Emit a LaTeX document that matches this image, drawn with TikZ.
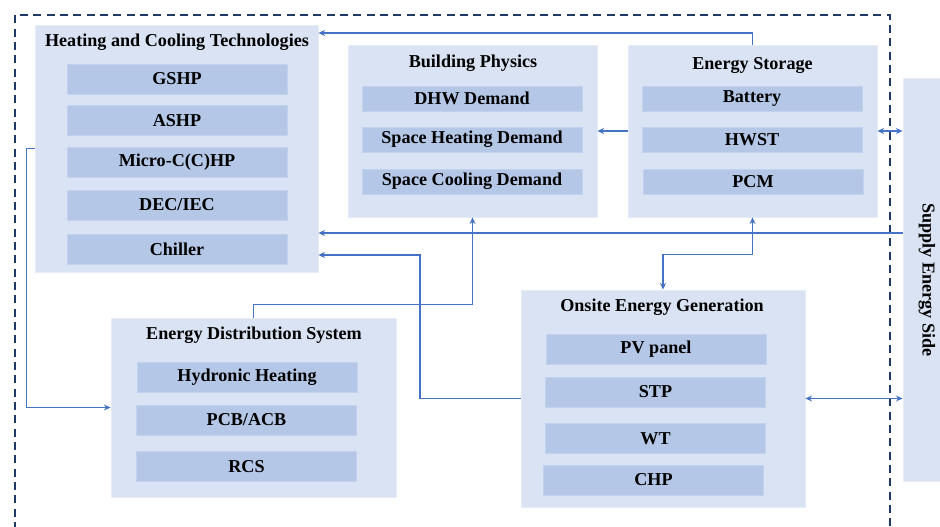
\documentclass[tikz,border=0pt]{standalone}
\usepackage{fontspec}
\setmainfont{Liberation Serif}
\usepackage{tikz}
\usetikzlibrary{calc,arrows.meta}

\definecolor{boxfill}{HTML}{DAE3F3}
\definecolor{itemfill}{HTML}{B4C7E7}
\definecolor{linkblue}{HTML}{4472C4}
\definecolor{frame}{HTML}{203864}

\begin{document}
\begin{tikzpicture}[x=0.75pt,y=0.75pt,yscale=-1,xscale=1,
  font=\fontsize{13.6}{16}\selectfont\bfseries,
  outer/.style={fill=boxfill,draw=boxfill!70!white,line width=0.6pt,inner sep=0pt},
  item/.style={fill=itemfill,draw=itemfill!80!white,line width=0.4pt,inner sep=0pt,minimum width=165pt},
  ttl/.style={inner sep=0pt,anchor=center},
  link/.style={draw=linkblue,line width=1.25pt,-{Stealth[length=5pt,width=4.5pt]}},
  dlink/.style={draw=linkblue,line width=1.25pt,{Stealth[length=5pt,width=4.5pt]}-{Stealth[length=5pt,width=4.5pt]}}]
\path[use as bounding box,clip] (0,0) rectangle (940,527);
%Shape: Dashed frame
\draw[frame,line width=1.6pt,dash pattern=on 6pt off 4pt] (15,530) -- (15,15) -- (890,15) -- (890,530);

%Shape: Heating and Cooling Technologies
\node[outer,minimum width=212.25pt,minimum height=185.25pt] (hct) at (176.5,148.5) {};
\node[ttl] (hcttitle) at (177,42) {Heating and Cooling Technologies};
\node[item,minimum height=22.5pt] (gshp) at (177,79) {GSHP};
\node[item,minimum height=22.5pt] (ashp) at (177,120.5) {ASHP};
\node[item,minimum height=22.5pt] (micro) at (177,162.5) {Micro-C(C)HP};
\node[item,minimum height=22.5pt] (dec) at (177,205) {DEC/IEC};
\node[item,minimum height=22.5pt] (chiller) at (177,249) {Chiller};

%Shape: Building Physics
\node[outer,minimum width=186.75pt,minimum height=129pt] (phys) at (472.5,131) {};
\node[ttl] (phystitle) at (473,63) {Building Physics};
\node[item,minimum height=18.75pt] (dhw) at (472,98.5) {DHW Demand};
\node[item,minimum height=18.75pt] (heatdem) at (472,139.5) {Space Heating Demand};
\node[item,minimum height=18.75pt] (cooldem) at (472,181.5) {Space Cooling Demand};

%Shape: Energy Storage
\node[outer,minimum width=186.75pt,minimum height=129pt] (store) at (752.5,131) {};
\node[ttl] (storetitle) at (752.5,66) {Energy Storage};
\node[item,minimum height=18.75pt] (battery) at (752,98.5) {Battery};
\node[item,minimum height=18.75pt] (hwst) at (752,139.5) {HWST};
\node[item,minimum height=18.75pt] (pcm) at (753,181.5) {PCM};

%Shape: Energy Distribution System
\node[outer,minimum width=213.75pt,minimum height=134.25pt] (dist) at (253.5,407.5) {};
\node[ttl] (disttitle) at (254,335) {Energy Distribution System};
\node[item,minimum height=22.5pt] (hydronic) at (247,377) {Hydronic Heating};
\node[item,minimum height=22.5pt] (pcb) at (246.5,420) {PCB/ACB};
\node[item,minimum height=22.5pt] (rcs) at (246.5,466.5) {RCS};

%Shape: Onsite Energy Generation
\node[outer,minimum width=213pt,minimum height=162.75pt] (onsite) at (663,398.5) {};
\node[ttl] (onsitetitle) at (662,307) {Onsite Energy Generation};
\node[item,minimum height=22.5pt] (pv) at (656,349) {PV panel};
\node[item,minimum height=22.5pt] (stp) at (655.5,392) {STP};
\node[item,minimum height=22.5pt] (wt) at (655.5,438.5) {WT};
\node[item,minimum height=22.5pt] (chp) at (653.5,480) {CHP};

%Shape: Supply Energy Side
\node[outer,minimum width=36.75pt,minimum height=302.25pt] (supply) at (927.5,280) {};
\node[ttl,rotate=-90] (supplytitle) at (927,280) {Supply Energy Side};

%Connectors
\coordinate (topbus) at (0,33);
\coordinate (bus) at (0,233);
\coordinate (bend) at (420,255);
\draw[link] (store.north) |- (hct.east |- topbus);
\draw[link] (store.west) -- (phys.east);
\draw[dlink] (store.east) -- (store.east -| supply.west);
\draw[link] (supply.west |- bus) -- (hct.east |- bus);
\draw[link] (onsite.west) -| (bend) -- (hct.east |- bend);
\draw[link] (dist.north) -- ++(0,-13) -| (phys.south);
\draw[dlink] (store.south) -- ++(0,37) -| (onsite.north);
\draw[link] (hct.west) -- ++(-8,0) |- (dist.west);
\draw[dlink] (onsite.east) -- (onsite.east -| supply.west);
\end{tikzpicture}
\end{document}
